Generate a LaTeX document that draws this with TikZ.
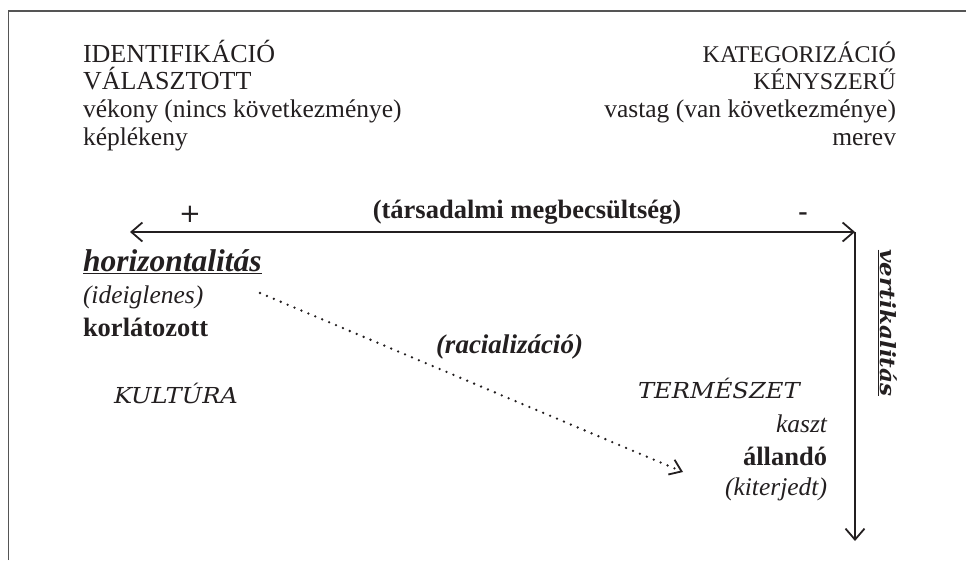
\documentclass[tikz,border=0pt]{standalone}
\usepackage{fontspec}
\setmainfont{Liberation Serif}
\newfontfamily\slabfont{DejaVu Serif}[FakeStretch=1.1]
\newfontfamily\plusfont{DejaVu Sans}
\usetikzlibrary{arrows.meta}
\definecolor{ink}{HTML}{231F20}
\definecolor{framec}{HTML}{555555}
\begin{document}
\begin{tikzpicture}[x=1pt,y=-1pt,
  txt/.style={inner sep=0pt, outer sep=0pt, text=ink},
  capleft/.style={txt, font=\fontsize{26}{28}\selectfont},
  capright/.style={txt, font=\fontsize{24}{26}\selectfont},
  lowline/.style={txt, font=\fontsize{25.5}{27}\selectfont},
  boldtxt/.style={txt, font=\bfseries\fontsize{26.5}{28}\selectfont},
  italtxt/.style={txt, font=\itshape\fontsize{25.5}{27}\selectfont},
  slabtxt/.style={txt, font=\slabfont\itshape\fontsize{22}{26}\selectfont},
  axis/.style={draw=ink, line width=1.8pt, arrows={Straight Barb[length=11pt,width=19pt,line width=1.8pt]-Straight Barb[length=11pt,width=19pt,line width=1.8pt]}},
  axisone/.style={draw=ink, line width=1.8pt, arrows={-Straight Barb[length=11pt,width=19pt,line width=1.8pt]}},
  dotarrow/.style={draw=ink, line width=2.6pt, line cap=round, dash pattern=on 0pt off 7.5pt,
    arrows={-Straight Barb[length=11pt,width=16pt,line width=1.8pt]}}
]
\useasboundingbox (0,0) rectangle (966,560);
% frame (top and left edges)
\draw[framec, line width=1.6pt] (8.5,560) -- (8.5,11) -- (966,11);

% left header block
\node[capleft, anchor=base west] (id) at (83,62) {IDENTIFIKÁCIÓ};
\node[capleft, anchor=base west] (va) at (83,89) {VÁLASZTOTT};
\node[lowline, anchor=base west] (vek) at (83,117) {vékony (nincs következménye)};
\node[lowline, anchor=base west] (kep) at (83,145) {képlékeny};

% right header block
\node[capright, anchor=base east] (kat) at (896,62) {KATEGORIZÁCIÓ};
\node[capright, anchor=base east] (keny) at (896,89) {KÉNYSZERŰ};
\node[lowline, anchor=base east] (vas) at (896,117) {vastag (van következménye)};
\node[lowline, anchor=base east] (mer) at (896,145) {merev};

% axis
\coordinate (L) at (130,232);
\coordinate (C) at (855,232);
\coordinate (B) at (855,541);
\draw[axis] (L) -- (C);
\draw[axisone] (C) -- (B);

\node[txt, font=\plusfont\fontsize{26}{28}\selectfont, anchor=base] (plus) at (190,222) {+};
\node[boldtxt, anchor=base] (tars) at (527,218) {(társadalmi megbecsültség)};
\node[txt, font=\bfseries\fontsize{28}{30}\selectfont, anchor=base] (minus) at (803,220) {-};

% left column
\node[txt, font=\bfseries\itshape\fontsize{31.5}{34}\selectfont, anchor=base west] (hor) at (83,271) {\underline{horizontalitás}};
\node[italtxt, anchor=base west] (ide) at (83,303) {(ideiglenes)};
\node[boldtxt, anchor=base west] (kor) at (83,336) {korlátozott};
\node[slabtxt, anchor=base west] (kul) at (114,403) {KULTÚRA};

% racialization
\node[txt, font=\bfseries\itshape\fontsize{27}{30}\selectfont, anchor=base west] (rac) at (436,353) {(racializáció)};
\coordinate (ds) at (260,293);
\coordinate (de) at (683,472);
\draw[dotarrow] (ds) -- (de);

% right column
\node[slabtxt, anchor=base west] (ter) at (638,398) {TERMÉSZET};
\node[italtxt, anchor=base east] (kaszt) at (827,432) {kaszt};
\node[boldtxt, anchor=base east] (all) at (827,465) {állandó};
\node[italtxt, anchor=base east] (kit) at (827,495) {(kiterjedt)};

% vertical label
\node[txt, font=\slabfont\bfseries\itshape\fontsize{21}{24}\selectfont, rotate=-90, anchor=base] (vert) at (880,323) {\underline{vertikalitás}};
\end{tikzpicture}
\end{document}
